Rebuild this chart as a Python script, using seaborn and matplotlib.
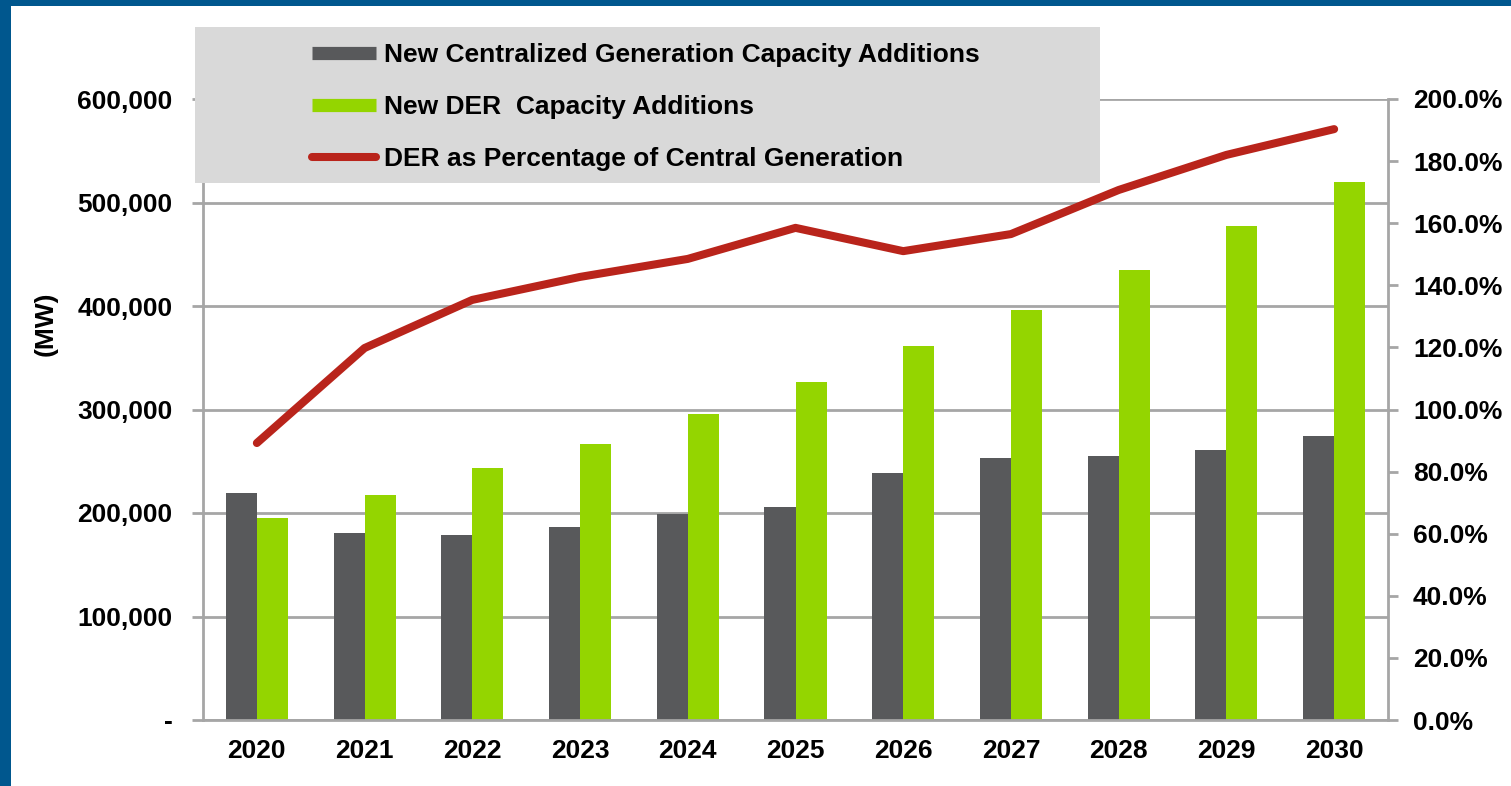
import numpy as np
import pandas as pd
import matplotlib
matplotlib.use("Agg")
import matplotlib.pyplot as plt
import matplotlib.ticker as mticker
from matplotlib.lines import Line2D
from matplotlib.patches import Rectangle
import seaborn as sns

years = ["2020", "2021", "2022", "2023", "2024", "2025", "2026", "2027", "2028", "2029", "2030"]
central_mw = [219000, 181000, 179000, 186000, 199000, 206000, 239000, 253000, 255000, 261000, 274000]
der_mw = [195000, 217000, 243000, 267000, 296000, 327000, 361000, 396000, 435000, 477000, 520000]
der_pct = [89.2, 119.8, 135.3, 142.7, 148.5, 158.5, 151.0, 156.5, 170.7, 182.0, 190.3]

series_names = ["New Centralized Generation Capacity Additions", "New DER  Capacity Additions"]
line_name = "DER as Percentage of Central Generation"

GRAY = "#58595b"
GREEN = "#94d500"
RED = "#b9241b"
GRID = "#a6a6a6"
BLUE = "#00578e"

sns.set_style("white")
plt.rcParams["font.family"] = ["Liberation Sans", "DejaVu Sans"]
plt.rcParams["font.weight"] = "bold"
plt.rcParams["text.color"] = "black"
plt.rcParams["xtick.labelcolor"] = "black"
plt.rcParams["ytick.labelcolor"] = "black"
plt.rcParams["axes.labelcolor"] = "black"
FS = 19

df = pd.DataFrame({
    "year": years * 2,
    "mw": central_mw + der_mw,
    "series": [series_names[0]] * len(years) + [series_names[1]] * len(years),
})

fig = plt.figure(figsize=(15.11, 7.86), dpi=100)
W, H = 1511, 786
ax = fig.add_axes([203 / W, 1 - 720 / H, (1388 - 203) / W, (720 - 99) / H])

sns.barplot(data=df, x="year", y="mw", hue="series", order=years, hue_order=series_names,
            palette=[GRAY, GREEN], width=0.576, gap=0, saturation=1, linewidth=0,
            legend=False, ax=ax, zorder=2)

ax.set_xlim(-0.5, len(years) - 0.5)
ax.set_ylim(0, 600000)
ax.yaxis.set_major_locator(mticker.MultipleLocator(100000))
ax.yaxis.set_major_formatter(mticker.FuncFormatter(lambda v, p: "-" if v == 0 else f"{v:,.0f}"))
ax.grid(axis="y", color=GRID, linewidth=2, zorder=0)
ax.set_axisbelow(True)
for s in ["left", "bottom"]:
    ax.spines[s].set_color(GRID)
    ax.spines[s].set_linewidth(2)
ax.spines["top"].set_visible(False)
ax.spines["right"].set_visible(False)

ax.set_xticks(np.arange(len(years)))
ax.set_xticklabels(years)
ax.set_xticks(np.arange(-0.5, len(years)), minor=True)
ax.tick_params(axis="x", which="major", length=0, pad=14, labelsize=FS, labelcolor="black")
ax.tick_params(axis="x", which="minor", length=7, width=2, color=GRID, direction="out")
ax.tick_params(axis="y", length=8, width=2, color=GRID, direction="out", pad=14,
               labelsize=FS, labelcolor="black")
ax.set_xlabel("")
ax.set_ylabel("(MW)", fontsize=FS, fontweight="bold", color="black")
ax.yaxis.set_label_coords(-0.123, 0.638)

ax2 = ax.twinx()
sns.lineplot(x=np.arange(len(years)), y=der_pct, color=RED, linewidth=5.8,
             solid_capstyle="round", ax=ax2, zorder=3)
ax2.set_ylim(0, 200)
ax2.yaxis.set_major_locator(mticker.MultipleLocator(20))
ax2.yaxis.set_major_formatter(mticker.FuncFormatter(lambda v, p: f"{v:.1f}%"))
ax2.tick_params(axis="y", length=7, width=2, color=GRID, direction="out", pad=11,
                labelsize=FS, labelcolor="black")
for s in ["left", "top", "bottom"]:
    ax2.spines[s].set_visible(False)
ax2.spines["right"].set_color(GRID)
ax2.spines["right"].set_linewidth(2)
ax2.set_ylabel("")

# legend box
fig.patches.append(Rectangle((195 / W, 1 - 183 / H), (1100 - 195) / W, (183 - 27) / H,
                             transform=fig.transFigure, facecolor="#d9d9d9",
                             edgecolor="none", zorder=5))
handles = [
    Line2D([], [], color=GRAY, linewidth=9.5, solid_capstyle="butt"),
    Line2D([], [], color=GREEN, linewidth=9.5, solid_capstyle="butt"),
    Line2D([], [], color=RED, linewidth=5.8, solid_capstyle="round"),
]
leg = fig.legend(handles, series_names + [line_name], loc="upper left",
                 bbox_to_anchor=(294 / W, 1 - 25 / H), frameon=False,
                 prop={"size": FS, "weight": "bold"}, handlelength=2.4,
                 handletextpad=0.3, labelspacing=1.06, borderpad=0.2)
leg.set_zorder(6)
for t in leg.get_texts():
    t.set_color("black")

# blue frame
fig.patches.append(Rectangle((0, 0), 11 / W, 1, transform=fig.transFigure,
                             facecolor=BLUE, edgecolor="none", zorder=7))
fig.patches.append(Rectangle((0, 1 - 6 / H), 1, 6 / H, transform=fig.transFigure,
                             facecolor=BLUE, edgecolor="none", zorder=7))

fig.savefig("out.png", dpi=100)
